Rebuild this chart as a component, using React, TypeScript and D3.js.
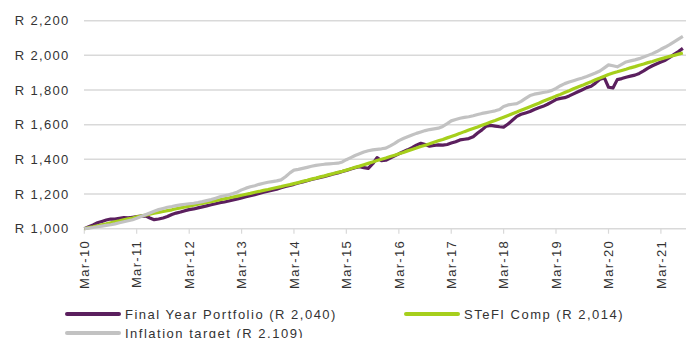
import React from "react";
import * as d3 from "d3";

// Month-end values, March 2010 through August 2021, R1,000 invested
const START = new Date(2010, 2, 1);

const finalYearPortfolio = [
  1000, 1012, 1022, 1034, 1042, 1050, 1056, 1055, 1060, 1064, 1062, 1066,
  1070, 1072, 1074, 1062, 1052, 1056, 1062, 1070, 1082, 1090, 1096, 1104,
  1110, 1114, 1120, 1126, 1132, 1138, 1144, 1150, 1154, 1160, 1166, 1172,
  1178, 1184, 1190, 1196, 1203, 1210, 1216, 1222, 1228, 1236, 1244, 1250,
  1256, 1264, 1270, 1277, 1284, 1290, 1296, 1302, 1309, 1316, 1322, 1330,
  1336, 1344, 1352, 1358, 1352, 1348, 1375, 1410, 1392, 1395, 1408, 1420,
  1432, 1444, 1455, 1468, 1482, 1493, 1486, 1476, 1480, 1484, 1482, 1486,
  1494, 1502, 1512, 1516, 1520, 1530, 1552, 1570, 1592, 1596, 1592, 1588,
  1586, 1604, 1626, 1648, 1660, 1668, 1676, 1688, 1698, 1706, 1718, 1732,
  1745, 1752, 1756, 1766, 1778, 1790, 1802, 1814, 1822, 1840, 1862, 1870,
  1816, 1812, 1860, 1866, 1874, 1880, 1886, 1896, 1910, 1926, 1940, 1952,
  1962, 1972, 1988, 2006, 2022, 2040,
];

const stefiComp = [
  1000, 1006, 1011, 1017, 1023, 1028, 1034, 1040, 1045, 1051, 1057, 1062,
  1068, 1073, 1078, 1084, 1089, 1094, 1099, 1104, 1109, 1115, 1120, 1125,
  1130, 1135, 1141, 1146, 1151, 1156, 1162, 1167, 1172, 1177, 1183, 1188,
  1193, 1199, 1204, 1210, 1215, 1221, 1226, 1232, 1238, 1243, 1249, 1254,
  1260, 1266, 1273, 1279, 1286, 1292, 1299, 1305, 1312, 1318, 1325, 1331,
  1338, 1346, 1354, 1361, 1369, 1377, 1385, 1393, 1401, 1408, 1416, 1424,
  1432, 1440, 1449, 1457, 1465, 1474, 1482, 1490, 1499, 1507, 1515, 1524,
  1532, 1541, 1550, 1560, 1569, 1578, 1587, 1597, 1606, 1615, 1624, 1634,
  1643, 1653, 1663, 1673, 1684, 1694, 1704, 1714, 1724, 1735, 1745, 1755,
  1765, 1775, 1786, 1796, 1807, 1817, 1827, 1838, 1848, 1859, 1869, 1880,
  1890, 1898, 1905, 1913, 1920, 1928, 1935, 1943, 1950, 1958, 1965, 1973,
  1980, 1987, 1994, 2000, 2007, 2014,
];

const inflationTarget = [
  1000, 1003, 1007, 1011, 1015, 1019, 1023, 1028, 1034, 1040, 1046, 1052,
  1060, 1070, 1080, 1091, 1101, 1110, 1117, 1124, 1128, 1133, 1137, 1141,
  1144, 1147, 1151, 1156, 1162, 1168, 1176, 1184, 1190, 1195, 1203, 1212,
  1224, 1234, 1242, 1248, 1256, 1262, 1268, 1272, 1276, 1282, 1300, 1322,
  1338, 1342, 1348, 1354, 1360, 1365, 1369, 1372, 1374, 1376, 1378, 1385,
  1398, 1410, 1422, 1432, 1442, 1450, 1455, 1458, 1461, 1465, 1478, 1492,
  1508, 1520, 1530, 1540, 1550, 1558, 1566, 1572, 1576, 1580, 1590, 1606,
  1622, 1630, 1637, 1642, 1646, 1652, 1659, 1665, 1670, 1675, 1680, 1688,
  1705, 1714, 1718, 1722, 1735, 1752, 1768, 1776, 1781, 1786, 1790, 1798,
  1810, 1825, 1837, 1846, 1854, 1862, 1869, 1878, 1888, 1898, 1910, 1928,
  1945, 1940, 1934, 1948, 1962, 1968, 1974, 1981, 1990, 2000, 2010, 2022,
  2035, 2048, 2062, 2078, 2094, 2109,
];

const tickYears = [2010, 2011, 2012, 2013, 2014, 2015, 2016, 2017, 2018, 2019, 2020, 2021];
const yTicks = [1000, 1200, 1400, 1600, 1800, 2000, 2200];

const seriesNames = ["Final Year Portfolio", "STeFI Comp", "Inflation target"];
const seriesColors = ["#5b1f5e", "#a6cf1c", "#c2c2c2"];

const W = 686;
const H = 338;
const FONT = "'Liberation Sans', Arial, sans-serif";
const TEXT = "#333333";

export default function App() {
  const series = [finalYearPortfolio, stefiComp, inflationTarget];
  const n = finalYearPortfolio.length;
  const dateAt = (i: number) => d3.timeMonth.offset(START, i);

  const x = d3
    .scaleTime()
    .domain([START, dateAt(n - 1)])
    .range([84.3, 84.3 + (n - 1) * 4.369]);
  const y = d3.scaleLinear().domain([1000, 2200]).range([228.7, 20.7]);

  const line = d3
    .line<number>()
    .x((_, i) => x(dateAt(i)))
    .y((v) => y(v));

  const fmtY = (v: number) => "R " + d3.format(",")(v);
  const fmtX = d3.timeFormat("%b-%y");
  const lastVal = (arr: number[]) => "R " + d3.format(",")(arr[arr.length - 1]);

  const legend = [
    { idx: 0, x: 67, y: 314 },
    { idx: 1, x: 406, y: 314 },
    { idx: 2, x: 67, y: 333 },
  ];

  return (
    <div style={{ position: "fixed", left: 0, top: 0, width: W, height: H, background: "#fff" }}>
      <svg width={W} height={H} style={{ display: "block" }}>
        {/* horizontal gridlines */}
        {yTicks.map((t) => (
          <line key={t} x1={84} x2={W} y1={y(t)} y2={y(t)} stroke="#d9d9d9" strokeWidth={1.5} />
        ))}
        {/* y-axis labels */}
        {yTicks.map((t) => (
          <text
            key={"l" + t}
            x={69.5}
            y={y(t)}
            textAnchor="end"
            dominantBaseline="central"
            fontFamily={FONT}
            fontSize={13}
            letterSpacing={1.3}
            fill={TEXT}
          >
            {fmtY(t)}
          </text>
        ))}
        {/* x-axis ticks and rotated labels */}
        {tickYears.map((yr) => {
          const d = new Date(yr, 2, 1);
          const px = x(d);
          return (
            <g key={yr}>
              <line x1={px} x2={px} y1={y(1000)} y2={y(1000) + 5} stroke="#d9d9d9" strokeWidth={1.2} />
              <text
                transform={`translate(${px + 4.8},${240}) rotate(-90)`}
                textAnchor="end"
                fontFamily={FONT}
                fontSize={13}
                letterSpacing={1.3}
                fill={TEXT}
              >
                {fmtX(d)}
              </text>
            </g>
          );
        })}
        {/* series lines, drawn in legend order */}
        {series.map((s, k) => (
          <path
            key={k}
            d={line(s) || ""}
            fill="none"
            stroke={seriesColors[k]}
            strokeWidth={3.2}
            strokeLinejoin="round"
          />
        ))}
        {/* legend */}
        {legend.map((l) => (
          <g key={l.idx}>
            <line x1={l.x} x2={l.x + 52} y1={l.y} y2={l.y} stroke={seriesColors[l.idx]} strokeWidth={4} strokeLinecap="round" />
            <text
              x={l.x + 58}
              y={l.y}
              dominantBaseline="central"
              fontFamily={FONT}
              fontSize={13}
              letterSpacing={1.5}
              fill={TEXT}
            >
              {`${seriesNames[l.idx]} (${lastVal(series[l.idx])})`}
            </text>
          </g>
        ))}
      </svg>
    </div>
  );
}
